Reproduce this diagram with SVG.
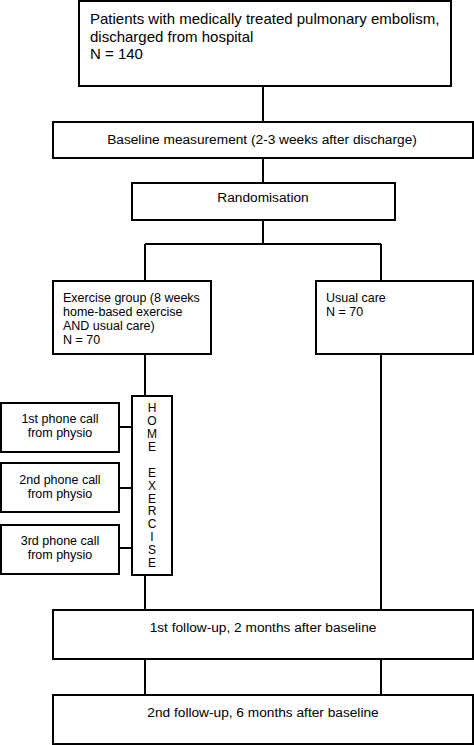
<svg xmlns="http://www.w3.org/2000/svg" width="474" height="745" viewBox="0 0 474 745">
<style>
.b{fill:#fff;stroke:#000;stroke-width:2}
.c{fill:none;stroke:#000;stroke-width:2}
text{font-family:"Liberation Sans",Arial,sans-serif;fill:#000}
.t{font-size:15px}
.l{font-size:13.7px}
.s{font-size:12.5px}
.h{font-size:12px}
.m{text-anchor:middle}
</style>
<rect width="474" height="745" fill="#fff"/>
<g id="connectors">
<path class="c" d="M263 86V122M263 158V183M263 220V244M145 244H381M145 244V281M381 244V281M145 354V396M145 575V610M381 354V610M119 427H132M119 488H132M119 548H132M145 659V695M381 659V695"/>
</g>
<g id="patients"><rect class="b" x="79" y="1" width="372" height="85"/>
<text class="t"><tspan x="90" y="23.5">Patients with medically treated pulmonary embolism,</tspan><tspan x="90" y="41.5">discharged from hospital</tspan><tspan x="90" y="59">N = 140</tspan></text></g>
<g id="baseline"><rect class="b" x="53" y="122" width="420" height="36"/>
<text class="l m" x="262" y="144">Baseline measurement (2-3 weeks after discharge)</text></g>
<g id="randomisation"><rect class="b" x="132" y="183" width="263" height="37"/>
<text class="l m" x="263" y="202">Randomisation</text></g>
<g id="exercise"><rect class="b" x="53" y="281" width="158" height="73"/>
<text class="s"><tspan x="63" y="302">Exercise group (8 weeks</tspan><tspan x="63" y="316">home-based exercise</tspan><tspan x="63" y="330">AND usual care)</tspan><tspan x="63" y="344">N = 70</tspan></text></g>
<g id="usual"><rect class="b" x="316" y="281" width="157" height="73"/>
<text class="s"><tspan x="326" y="302">Usual care</tspan><tspan x="326" y="316">N = 70</tspan></text></g>
<g id="home"><rect class="b" x="132" y="396" width="40" height="179"/>
<text class="h m"><tspan x="152" y="412">H</tspan><tspan x="152" y="425">O</tspan><tspan x="152" y="438">M</tspan><tspan x="152" y="451">E</tspan><tspan x="152" y="477">E</tspan><tspan x="152" y="490">X</tspan><tspan x="152" y="502.5">E</tspan><tspan x="152" y="515">R</tspan><tspan x="152" y="528">C</tspan><tspan x="152" y="541">I</tspan><tspan x="152" y="554">S</tspan><tspan x="152" y="567">E</tspan></text></g>
<g id="call1"><rect class="b" x="1" y="403" width="118" height="49"/>
<text class="s m"><tspan x="60" y="423">1st phone call</tspan><tspan x="60" y="437">from physio</tspan></text></g>
<g id="call2"><rect class="b" x="1" y="463" width="118" height="49"/>
<text class="s m"><tspan x="60" y="484">2nd phone call</tspan><tspan x="60" y="498">from physio</tspan></text></g>
<g id="call3"><rect class="b" x="1" y="525" width="118" height="49"/>
<text class="s m"><tspan x="60" y="545">3rd phone call</tspan><tspan x="60" y="559">from physio</tspan></text></g>
<g id="followup1"><rect class="b" x="53" y="610" width="420" height="49"/>
<text class="l m" x="263" y="632">1st follow-up, 2 months after baseline</text></g>
<g id="followup2"><rect class="b" x="53" y="695" width="420" height="49"/>
<text class="l m" x="263" y="717">2nd follow-up, 6 months after baseline</text></g>
</svg>
